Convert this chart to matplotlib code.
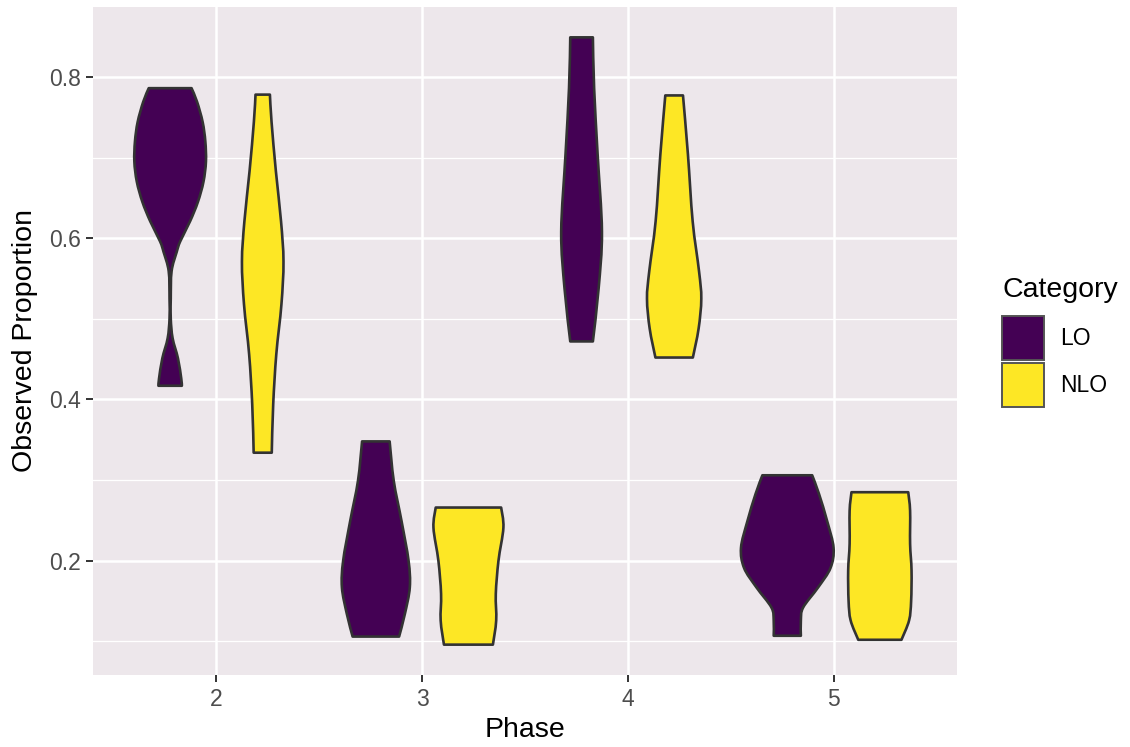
import matplotlib
matplotlib.use("Agg")
import matplotlib.pyplot as plt
from matplotlib.path import Path
from matplotlib.patches import PathPatch, Patch
import numpy as np

plt.rcParams["font.family"] = ["Liberation Sans", "DejaVu Sans"]

# ---------------- data ----------------
phases = [2, 3, 4, 5]
categories = ["LO", "NLO"]
fill_colors = ["#440154", "#FDE725"]
legend_title = "Category"

# Violin outlines: proportion levels and density half-widths (phase units)
lo2_y = [0.417, 0.426, 0.451, 0.476, 0.500, 0.525, 0.559, 0.583, 0.596, 0.621, 0.645, 0.670, 0.695, 0.720, 0.744, 0.769, 0.786]
lo2_w = [0.057, 0.054, 0.038, 0.012, 0.003, 0.003, 0.007, 0.032, 0.049, 0.097, 0.135, 0.162, 0.174, 0.171, 0.158, 0.131, 0.104]
nlo2_y = [0.334, 0.394, 0.456, 0.518, 0.571, 0.621, 0.683, 0.744, 0.778]
nlo2_w = [0.044, 0.051, 0.066, 0.091, 0.101, 0.089, 0.064, 0.043, 0.035]

lo3_y = [0.106, 0.134, 0.167, 0.200, 0.249, 0.299, 0.348]
lo3_w = [0.113, 0.141, 0.165, 0.159, 0.125, 0.087, 0.067]
nlo3_y = [0.096, 0.126, 0.159, 0.200, 0.241, 0.266]
nlo3_w = [0.119, 0.135, 0.133, 0.146, 0.170, 0.159]

lo4_y = [0.472, 0.538, 0.608, 0.704, 0.786, 0.849]
lo4_w = [0.055, 0.083, 0.099, 0.078, 0.061, 0.055]
nlo4_y = [0.452, 0.488, 0.525, 0.559, 0.621, 0.704, 0.777]
nlo4_w = [0.091, 0.119, 0.132, 0.121, 0.090, 0.067, 0.043]

lo5_y = [0.107, 0.126, 0.142, 0.167, 0.191, 0.216, 0.249, 0.283, 0.306]
lo5_w = [0.066, 0.066, 0.077, 0.150, 0.210, 0.225, 0.194, 0.154, 0.121]
nlo5_y = [0.102, 0.126, 0.150, 0.188, 0.221, 0.262, 0.285]
nlo5_w = [0.105, 0.142, 0.152, 0.154, 0.147, 0.147, 0.138]

violin_y = {"LO": [lo2_y, lo3_y, lo4_y, lo5_y], "NLO": [nlo2_y, nlo3_y, nlo4_y, nlo5_y]}
violin_w = {"LO": [lo2_w, lo3_w, lo4_w, lo5_w], "NLO": [nlo2_w, nlo3_w, nlo4_w, nlo5_w]}

y_major = [0.2, 0.4, 0.6, 0.8]
y_minor = [0.1, 0.3, 0.5, 0.7]

# ---------------- helpers ----------------
def smooth_side(pts):
    """Catmull-Rom spline through pts, returned as Bezier path pieces (without the first point)."""
    verts, codes = [], []
    n = len(pts)
    for i in range(n - 1):
        p0 = pts[i - 1] if i > 0 else pts[i]
        p1 = pts[i]
        p2 = pts[i + 1]
        p3 = pts[i + 2] if i + 2 < n else pts[i + 1]
        c1 = p1 + (p2 - p0) / 6.0
        c2 = p2 - (p3 - p1) / 6.0
        verts += [c1, c2, p2]
        codes += [Path.CURVE4] * 3
    return verts, codes


def violin_path(xc, ys, ws):
    ys = np.asarray(ys, float)
    ws = np.asarray(ws, float)
    left = [np.array([xc - w, y]) for y, w in zip(ys, ws)]
    right = [np.array([xc + w, y]) for y, w in zip(ys[::-1], ws[::-1])]
    verts = [left[0]]
    codes = [Path.MOVETO]
    v, c = smooth_side(left)
    verts += v
    codes += c
    verts.append(right[0])
    codes.append(Path.LINETO)
    v, c = smooth_side(right)
    verts += v
    codes += c
    verts.append(left[0])
    codes.append(Path.CLOSEPOLY)
    return Path(np.array(verts), codes)


# ---------------- figure ----------------
W, H = 1130, 747
fig = plt.figure(figsize=(W / 100, H / 100), dpi=100)
fig.patch.set_facecolor("white")
ax = fig.add_axes([93 / W, 72 / H, 864 / W, 668 / H])
ax.set_facecolor("#EDE7EB")

dodge = 0.9
n_cat = len(categories)
for ci, cat in enumerate(categories):
    offset = (ci - (n_cat - 1) / 2) * dodge / n_cat
    for pi, ph in enumerate(phases):
        path = violin_path(ph + offset, violin_y[cat][pi], violin_w[cat][pi])
        ax.add_patch(PathPatch(path, facecolor=fill_colors[ci], edgecolor="#333333",
                               linewidth=1.9, joinstyle="round", zorder=3))

all_y = np.concatenate([np.asarray(v) for cat in categories for v in violin_y[cat]])
yr = all_y.max() - all_y.min()
ax.set_ylim(all_y.min() - 0.05 * yr, all_y.max() + 0.05 * yr)
ax.set_xlim(phases[0] - 0.6, phases[-1] + 0.6)

ax.set_xticks(phases)
ax.set_xticklabels([str(p) for p in phases])
ax.set_yticks(y_major)
ax.set_yticklabels([f"{v:.1f}" for v in y_major])
ax.set_yticks(y_minor, minor=True)

ax.grid(which="major", color="white", linewidth=1.8, zorder=0)
ax.grid(which="minor", axis="y", color="white", linewidth=0.9, zorder=0)
ax.set_axisbelow(True)
for s in ax.spines.values():
    s.set_visible(False)

ax.tick_params(which="major", length=5, width=1.4, color="#333333",
               labelsize=16.5, labelcolor="#4D4D4D", pad=4)
ax.tick_params(which="minor", length=0)

ax.set_xlabel("Phase", fontsize=20.5, color="black", labelpad=5)
ax.set_ylabel("Observed Proportion", fontsize=20.5, color="black", labelpad=8)

# legend: title as text, keys via legend
fig.text(1002 / W, 1 - 290 / H, legend_title, fontsize=20.5, color="black",
         ha="left", va="center")
handles = [Patch(facecolor=fill_colors[i], edgecolor="#555555", linewidth=1.4)
           for i in range(n_cat)]
fig.legend(handles, categories, loc="upper left",
           bbox_to_anchor=(1002 / W, 1 - 316 / H), frameon=False,
           fontsize=16.5, handlelength=1.85, handleheight=2.55,
           labelspacing=0.17, handletextpad=0.7,
           borderpad=0, borderaxespad=0)

fig.savefig("out.png", dpi=100)
